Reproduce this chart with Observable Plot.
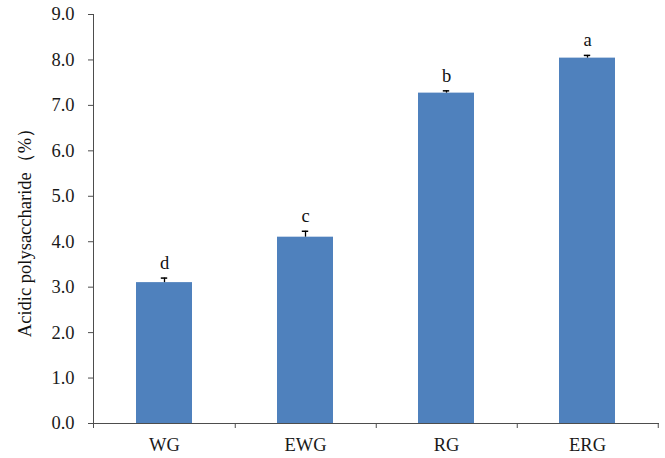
<!DOCTYPE html>
<html>
<head>
<meta charset="utf-8">
<script src="https://cdn.jsdelivr.net/npm/d3@7"></script>
<script src="https://cdn.jsdelivr.net/npm/@observablehq/plot@0.6"></script>
<style>
  html, body { margin: 0; padding: 0; background: #fff; }
  #chart { width: 665px; height: 458px; }
</style>
</head>
<body>
<div id="chart"></div>
<script>
const categories = ["WG", "EWG", "RG", "ERG"];
const values = [3.1, 4.1, 7.27, 8.04];
const errors = [0.1, 0.13, 0.05, 0.06];
const letters = ["d", "c", "b", "a"];
const yTicks = [0, 1, 2, 3, 4, 5, 6, 7, 8, 9];
const yLabel = "Acidic polysaccharide（%）";

const data = categories.map((c, i) => ({cat: c, v: values[i], e: errors[i], letter: letters[i]}));

const W = 665, H = 458;
const mL = 93, mR = 6, mT = 14, mB = 35;
const step = (W - mL - mR) / 4;
const bw = step * 0.4;
const pxPerUnit = (H - mT - mB) / 9;
const font = "'Liberation Serif', 'Times New Roman', serif";
const axisColor = "#4d4d4d";
const barColor = "#4F81BD";
const fs = 18.5;

const chart = Plot.plot({
  width: W,
  height: H,
  marginLeft: mL,
  marginRight: mR,
  marginTop: mT,
  marginBottom: mB,
  style: {fontFamily: font, fontSize: fs + "px", color: "#1a1a1a", background: "#fff"},
  x: {domain: categories, paddingInner: 0.6, paddingOuter: 0.3, label: null},
  y: {domain: [0, 9], label: null},
  marks: [
    Plot.barY(data, {x: "cat", y: "v", fill: barColor}),
    // error bars (upper)
    Plot.ruleX(data, {x: "cat", y1: "v", y2: d => d.v + d.e, stroke: "#000", strokeWidth: 1.3}),
    Plot.tickY(data, {x: "cat", y: d => d.v + d.e, stroke: "#000", strokeWidth: 1.5, insetLeft: (bw - 7) / 2, insetRight: (bw - 7) / 2}),
    // significance letters
    Plot.text(data, {x: "cat", y: d => d.v + d.e, text: "letter", dy: -15, fontSize: fs, fill: "#111"}),
    // y axis
    Plot.axisY({ticks: yTicks, tickFormat: d => d.toFixed(1), tickSize: 5, tickPadding: 14, stroke: axisColor, fontSize: fs, label: null}),
    Plot.frame({anchor: "left", stroke: axisColor, insetBottom: -4}),
    // x axis
    Plot.axisX({tickSize: 0, tickPadding: 14, fontSize: fs, label: null}),
    Plot.ruleY([0], {stroke: axisColor}),
    Plot.ruleX(categories, {x: d => d, dx: step / 2, y1: 0, y2: -5 / pxPerUnit, stroke: axisColor}),
    // y-axis title
    Plot.text([yLabel], {text: d => d, frameAnchor: "left", textAnchor: "middle", dx: -68, dy: 9, rotate: -90, fontSize: fs, fill: "#111"})
  ]
});
document.getElementById("chart").appendChild(chart);
</script>
</body>
</html>
